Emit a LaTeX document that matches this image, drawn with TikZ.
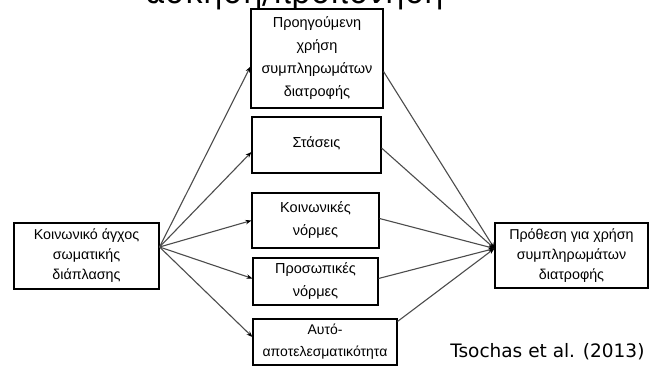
\documentclass[tikz,border=0pt]{standalone}
\usepackage{fontspec}
\setmainfont{Liberation Sans}
\newfontfamily\citefont{DejaVu Sans}
\usepackage{tikz}
\usetikzlibrary{positioning,arrows.meta}

\tikzset{
  factor/.style={draw, line width=1.1pt, align=center, font=\fontsize{14.5}{23}\selectfont, inner sep=2pt},
  path/.style={draw=black!70, line width=1.1pt, -{Stealth[length=6pt,width=4.5pt,black]}}
}

\begin{document}
\begin{tikzpicture}[x=1pt, y=-1pt]
            \useasboundingbox (0,0) rectangle (651,367);
            \clip (0,0) rectangle (651,367);

            % Title (cut off by the page edge)
            \node (T) [anchor=base, font=\citefont\fontsize{31}{31}\selectfont] at (295,3) {άσκηση/προπόνηση};

            % Nodes
            \node (S) [factor, minimum width=145pt, minimum height=66pt, font=\fontsize{14.3}{20}\selectfont] at (86.5,256) {Κοινωνικό άγχος\\σωματικής\\διάπλασης};
            \node (P) [factor, minimum width=132pt, minimum height=99pt] at (317,58.5) {Προηγούμενη\\χρήση\\συμπληρωμάτων\\διατροφής};
            \node (A) [factor, minimum width=129pt, minimum height=56pt, text depth=6pt] at (316.5,145) {Στάσεις};
            \node (N) [factor, minimum width=127pt, minimum height=55pt] at (315.5,220.5) {Κοινωνικές\\νόρμες};
            \node (M) [factor, minimum width=125pt, minimum height=47pt] at (315.5,281.5) {Προσωπικές\\νόρμες};
            \node (E) [factor, minimum width=144pt, minimum height=46pt, font=\fontsize{14}{22}\selectfont] at (325,342) {Αυτό-\\αποτελεσματικότητα};
            \node (I) [factor, minimum width=153pt, minimum height=65pt, font=\fontsize{14.3}{20}\selectfont] at (571.5,255.5) {Πρόθεση για χρήση\\συμπληρωμάτων\\διατροφής};
            \node (R) [anchor=base east, font=\citefont\fontsize{18.5}{18.5}\selectfont] at (648,357) {Tsochas et al. (2013)};

            \coordinate (Sout) at ([yshift=9pt]S.east);
            \coordinate (Iin) at ([yshift=7pt]I.west);

            % Edges to the mediators
            \draw [path] (Sout) -- ([yshift=-8pt]P.west);
            \draw [path] (Sout) -- ([yshift=-7pt]A.west);
            \draw [path] (Sout) -- (N.west);
            \draw [path] (Sout) -- ([yshift=3pt]M.west);
            \draw [path] (Sout) -- ([yshift=5pt]E.west);
            % Edges to the intention
            \draw [path] ([yshift=-13pt]P.east) -- (Iin);
            \draw [path] ([yshift=-3pt]A.east) -- (Iin);
            \draw [path] ([yshift=2pt]N.east) -- (Iin);
            \draw [path] ([yshift=3pt]M.east) -- (Iin);
            \draw [path] ([yshift=-3pt]E.north east) -- (Iin);
        \end{tikzpicture}
\end{document}
